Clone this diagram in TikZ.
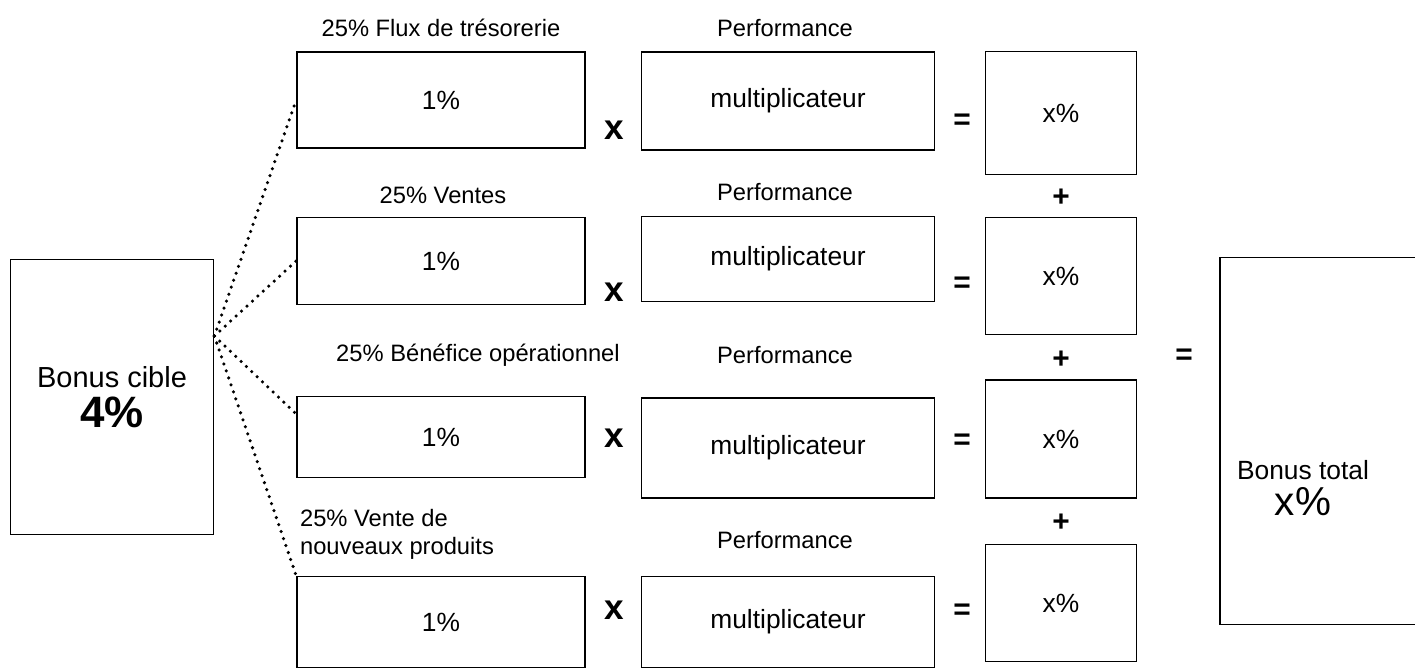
\documentclass[tikz,border=0pt]{standalone}
\usepackage{fontspec}
\setmainfont{Liberation Sans}
\usetikzlibrary{calc}

\begin{document}
\begin{tikzpicture}[
    x=0.02cm, y=-0.02cm,
    box/.style={draw, line width=1pt, align=center, inner sep=0pt, font=\fontsize{15}{18}\selectfont},
    tag/.style={align=center, inner sep=1pt, font=\fontsize{13.5}{16}\selectfont},
    op/.style={inner sep=0pt, font=\fontsize{17}{17}\selectfont\bfseries},
    times/.style={inner sep=0pt, font=\fontsize{20}{20}\selectfont\bfseries},
    fan/.style={line width=2pt, line cap=round, dash pattern=on 0pt off 4.2pt}
]
\useasboundingbox (0,0) rectangle (1415,672);

% Target bonus
\node[box, minimum width=4.06cm, minimum height=5.5cm] (cible) at (112,397) {
    {\fontsize{16.5}{18}\selectfont Bonus cible}\\[5pt]
    {\fontsize{25}{25}\selectfont\bfseries 4\%}
};

% Row 1: cash flow
\node[tag] (t1) at (441,28) {25\% Flux de trésorerie};
\node[tag] (p1) at (785,28) {Performance};
\node[box, minimum width=5.76cm, minimum height=1.92cm] (a1) at (441,100) {1\%};
\node[times] (x1) at (614,130) {x};
\node[box, minimum width=5.86cm, minimum height=1.96cm] (b1) at (788,101) {multiplicateur};
\node[op] (e1) at (962,122) {=};
\node[box, minimum width=3.02cm, minimum height=2.46cm] (c1) at (1061,113) {x\%};
\node[op] (s1) at (1061,198) {+};

% Row 2: sales
\node[tag] (t2) at (443,195) {25\% Ventes};
\node[tag] (p2) at (785,192) {Performance};
\node[box, minimum width=5.76cm, minimum height=1.74cm] (a2) at (441,261) {1\%};
\node[times] (x2) at (614,292) {x};
\node[box, minimum width=5.86cm, minimum height=1.70cm] (b2) at (788,259) {multiplicateur};
\node[op] (e2) at (962,285) {=};
\node[box, minimum width=3.02cm, minimum height=2.34cm] (c2) at (1061,276) {x\%};
\node[op] (s2) at (1061,360) {+};

% Row 3: operating profit
\node[tag] (t3) at (478,355) {25\% Bénéfice opérationnel};
\node[tag] (p3) at (785,355) {Performance};
\node[box, minimum width=5.76cm, minimum height=1.62cm] (a3) at (441,437) {1\%};
\node[times] (x3) at (614,438) {x};
\node[box, minimum width=5.86cm, minimum height=2.0cm] (b3) at (788,448) {multiplicateur};
\node[op] (e3) at (962,442) {=};
\node[box, minimum width=3.02cm, minimum height=2.36cm] (c3) at (1061,439) {x\%};
\node[op] (s3) at (1061,523) {+};

% Row 4: new products
\node[tag, align=left, anchor=west] (t4) at (298,534) {25\% Vente de\\nouveaux produits};
\node[tag] (p4) at (785,540) {Performance};
\node[box, minimum width=5.76cm, minimum height=1.82cm] (a4) at (441,622) {1\%};
\node[times] (x4) at (614,610) {x};
\node[box, minimum width=5.86cm, minimum height=1.82cm] (b4) at (788,622) {multiplicateur};
\node[op] (e4) at (962,612) {=};
\node[box, minimum width=3.02cm, minimum height=2.34cm] (c4) at (1061,603) {x\%};

% Total bonus
\node[op] (eq) at (1184,357) {=};
\node[box, minimum width=3.96cm, minimum height=7.34cm] (total) at (1319,441) {};
\node[tag] (totaltext) at (1303,488) {
    {\fontsize{15}{18}\selectfont Bonus total}\\[3pt]
    {\fontsize{23}{23}\selectfont x\%}
};

% Split of the target
\coordinate (hub) at ([yshift=1.22cm]cible.east);
\draw[fan] (hub) -- (a1.west);
\draw[fan] (hub) -- (a2.west);
\draw[fan] (hub) -- (a3.171);
\draw[fan] (hub) -- (a4.north west);

\end{tikzpicture}
\end{document}
